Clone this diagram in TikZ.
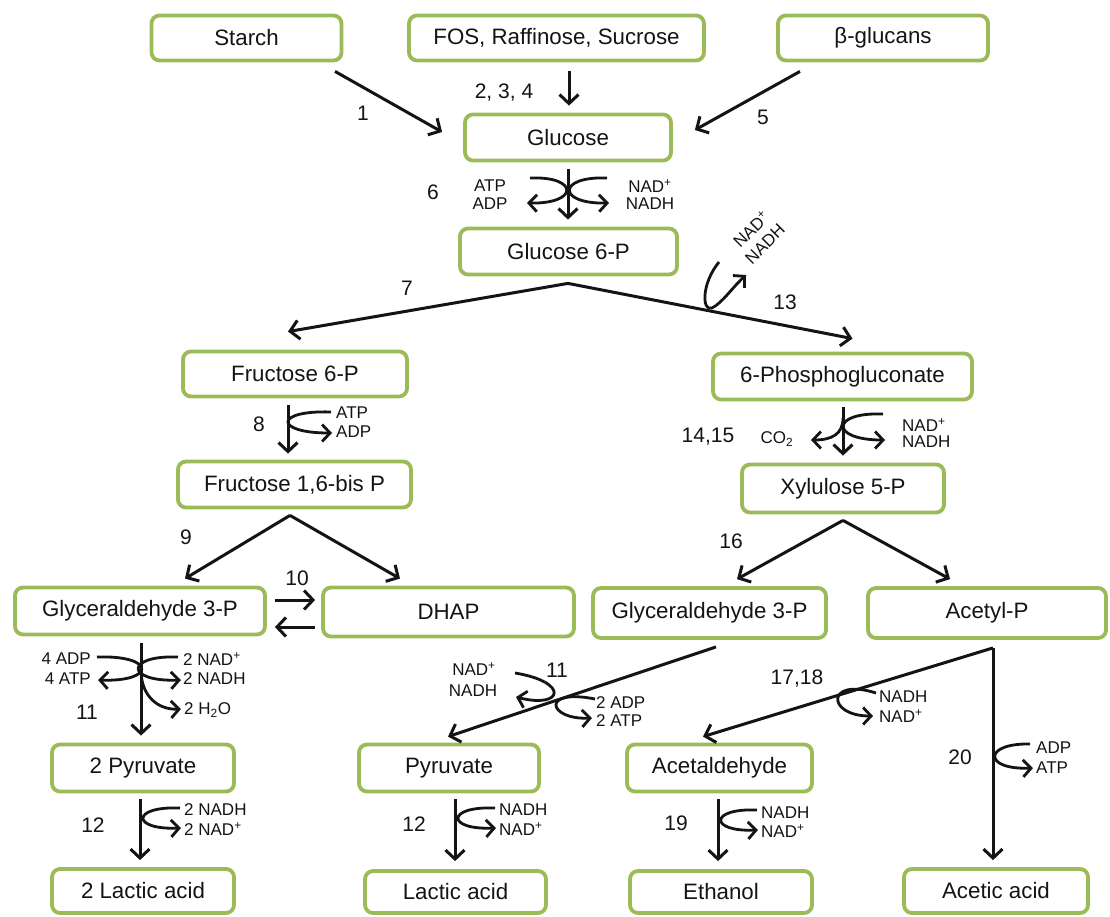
\documentclass[tikz,border=0pt]{standalone}
\usepackage{fontspec}
\setmainfont{Liberation Sans}
\usetikzlibrary{arrows.meta,calc}
\definecolor{boxgreen}{RGB}{155,187,89}
\definecolor{ink}{RGB}{20,20,20}
\begin{document}
\begin{tikzpicture}[x=1pt,y=-1pt,
  box/.style={draw=boxgreen, line width=3.8pt, rounded corners=8pt, fill=white, inner sep=0pt, text=ink, font=\fontsize{22.3}{26}\selectfont},
  arr/.style={draw=ink, line width=3pt, -{Straight Barb[length=9pt,width=19pt]}},
  side/.style={draw=ink, line width=2.8pt, -{Straight Barb[length=8pt,width=17pt]}},
  lab/.style={font=\fontsize{17}{18}\selectfont, inner sep=0pt, text=ink},
  num/.style={font=\fontsize{21}{23}\selectfont, inner sep=0pt, text=ink}]
\useasboundingbox (0,0) rectangle (1110,916);
\fill[white] (0,0) rectangle (1110,916);

% boxes
\node[box, minimum width=190pt, minimum height=45pt] (starch) at (246.5,38) {Starch};
\node[box, minimum width=295pt, minimum height=45pt] (fos) at (556.5,38) {FOS, Raffinose, Sucrose};
\node[box, minimum width=210pt, minimum height=45pt] (beta) at (883,38) {β-glucans};
\node[box, minimum width=206pt, minimum height=46pt] (glc) at (568,137.5) {Glucose};
\node[box, minimum width=217pt, minimum height=46pt] (g6p) at (568.5,251.5) {Glucose 6-P};
\node[box, minimum width=224pt, minimum height=45pt] (f6p) at (295,374) {Fructose 6-P};
\node[box, minimum width=259pt, minimum height=46pt] (pg) at (842.5,376.5) {6-Phosphogluconate};
\node[box, minimum width=233pt, minimum height=46pt] (fbp) at (294.5,484.5) {Fructose 1,6-bis P};
\node[box, minimum width=202pt, minimum height=48pt] (x5p) at (843,488.5) {Xylulose 5-P};
\node[box, minimum width=250pt, minimum height=47pt] (gapl) at (140,611) {Glyceraldehyde 3-P};
\node[box, minimum width=251pt, minimum height=49pt] (dhap) at (448.5,612) {DHAP};
\node[box, minimum width=233pt, minimum height=50pt] (gapr) at (709.5,613) {Glyceraldehyde 3-P};
\node[box, minimum width=238pt, minimum height=50pt] (acp) at (987,613) {Acetyl-P};
\node[box, minimum width=182pt, minimum height=47pt] (pyr2) at (143,768) {2 Pyruvate};
\node[box, minimum width=180pt, minimum height=47pt] (pyr) at (449,768) {Pyruvate};
\node[box, minimum width=185pt, minimum height=47pt] (acald) at (719.5,768) {Acetaldehyde};
\node[box, minimum width=182pt, minimum height=44pt] (lac2) at (143,891) {2 Lactic acid};
\node[box, minimum width=181pt, minimum height=42pt] (lac) at (455.5,892) {Lactic acid};
\node[box, minimum width=182pt, minimum height=42pt] (eth) at (721,892) {Ethanol};
\node[box, minimum width=184pt, minimum height=44pt] (acet) at (996,891) {Acetic acid};

% main connectors
\draw[arr] ([shift={(88.5,9)}]starch.south) -- ([shift={(-21,-5.5)}]glc.west);
\draw[arr] ([shift={(12.5,9)}]fos.south) -- ([shift={(1,-7)}]glc.north);
\draw[arr] ([shift={(-83,9)}]beta.south) -- ([shift={(22,-7.5)}]glc.east);
\draw[arr] ([shift={(0,7)}]glc.south) -- ([shift={(-0.5,-7)}]g6p.north);
\draw[arr] ([shift={(-0.5,7)}]g6p.south) -- ([shift={(-7,-18)}]f6p.north);
\draw[arr] ([shift={(-0.5,7)}]g6p.south) -- ([shift={(10,-13)}]pg.north);
\draw[arr] ([shift={(-7,7)}]f6p.south) -- ([shift={(-6.5,-6)}]fbp.north);
\draw[arr] ([shift={(0.5,6)}]pg.south) -- ([shift={(0,-7)}]x5p.north);
\draw[arr] ([shift={(-4.5,6)}]fbp.south) -- ([shift={(45,-7)}]gapl.north);
\draw[arr] ([shift={(-4.5,6)}]fbp.south) -- ([shift={(-48.5,-7)}]dhap.north);
\draw[arr] ([shift={(8,-11)}]gapl.east) -- ([shift={(-6,-12)}]dhap.west);
\draw[arr] ([shift={(-6,15)}]dhap.west) -- ([shift={(8,16)}]gapl.east);
\draw[arr] ([shift={(0,6)}]x5p.south) -- ([shift={(27.5,-7)}]gapr.north);
\draw[arr] ([shift={(0,6)}]x5p.south) -- ([shift={(-37,-7)}]acp.north);
\draw[arr] ([shift={(1,7)}]gapl.south) -- ([shift={(-2,-7)}]pyr2.north);
\draw[arr] ([shift={(6.5,7)}]gapr.south) -- ([shift={(-1,-6)}]pyr.north);
\draw[arr] ([shift={(6,8)}]acp.south) -- ([shift={(-16.5,-6)}]acald.north);
\draw[arr] ([shift={(6,8)}]acp.south) -- ([shift={(-3,-7)}]acet.north);
\draw[arr] ([shift={(-3,6)}]pyr2.south) -- ([shift={(-3,-7)}]lac2.north);
\draw[arr] ([shift={(6,6)}]pyr.south) -- ([shift={(-0.5,-8)}]lac.north);
\draw[arr] ([shift={(-1.5,6)}]acald.south) -- ([shift={(-3,-8)}]eth.north);

% step numbers
\node[num] (n1) at (363,113) {1};
\node[num] (n234) at (504,93) {2, 3, 4};
\node[num] (n5) at (763,117) {5};
\node[num] (n6) at (433,192) {6};
\node[num] (n7) at (407,288) {7};
\node[num] (n13) at (785,302) {13};
\node[num] (n8) at (259,424) {8};
\node[num] (n1415) at (708,437) {14,15};
\node[num] (n9) at (186,537) {9};
\node[num] (n10) at (297,578) {10};
\node[num] (n16) at (731,541) {16};
\node[num] (n11a) at (87,712) {11};
\node[num] (n11b) at (557,670) {11};
\node[num] (n1718) at (797,678) {17,18};
\node[num] (n20) at (960,757) {20};
\node[num] (n12a) at (93,825) {12};
\node[num] (n12b) at (414,824) {12};
\node[num] (n19) at (676,823) {19};

% reaction 6
\draw[side] (530,178) .. controls (579,176) and (579,204) .. (527,203);
\draw[side] (607,178) .. controls (557,176) and (557,204) .. (609,203);
\node[lab] (t6a) at (490,186) {ATP};
\node[lab] (t6b) at (490,204) {ADP};
\node[lab] (t6c) at (650,186) {NAD\textsuperscript{+}};
\node[lab] (t6d) at (650,204) {NADH};

% reaction 13
\draw[side] (719,262) .. controls (701,284) and (702,312) .. (712,308) .. controls (722,303) and (732,288) .. (746,275);
\node[lab, rotate=45] (t13a) at (751,229) {NAD\textsuperscript{+}};
\node[lab, rotate=45] (t13b) at (765,244) {NADH};

% reaction 8
\draw[side] (331,412) .. controls (274,410) and (274,433) .. (332,433);
\node[lab, anchor=west] (t8a) at (336,413) {ATP};
\node[lab, anchor=west] (t8b) at (336,432) {ADP};

% reaction 14,15
\draw[side] (883,414) .. controls (830,412) and (830,440) .. (885,440);
\draw[side] (843,418) .. controls (843,434) and (832,440) .. (811,440);
\node[lab] (t14a) at (777,439) {CO\textsubscript{2}};
\node[lab, anchor=west] (t14b) at (902,425) {NAD\textsuperscript{+}};
\node[lab, anchor=west] (t14c) at (902,442) {NADH};

% reaction 11 (left)
\draw[side] (97,657) .. controls (156,655) and (156,682) .. (98,680);
\draw[side] (178,657) .. controls (125,655) and (125,682) .. (181,680);
\draw[side] (141,670) .. controls (141,696) and (158,710) .. (181,709);
\node[lab, anchor=east] (t11a) at (91,659) {4 ADP};
\node[lab, anchor=east] (t11b) at (91,679) {4 ATP};
\node[lab, anchor=west] (t11c) at (183,659) {2 NAD\textsuperscript{+}};
\node[lab, anchor=west] (t11d) at (183,679) {2 NADH};
\node[lab, anchor=west] (t11e) at (184,710) {2 H\textsubscript{2}O};

% reaction 11 (right)
\draw[side] (515,673) .. controls (570,682) and (563,709) .. (516,697);
\draw[side] (595,699) .. controls (540,688) and (548,720) .. (592,718);
\node[lab] (t11f) at (474,669) {NAD\textsuperscript{+}};
\node[lab] (t11g) at (473,691) {NADH};
\node[lab, anchor=west] (t11h) at (596,703) {2 ADP};
\node[lab, anchor=west] (t11i) at (596,721) {2 ATP};

% reaction 17,18
\draw[side] (876,693) .. controls (826,677) and (826,716) .. (873,716);
\node[lab, anchor=west] (t17a) at (879,697) {NADH};
\node[lab, anchor=west] (t17b) at (879,716) {NAD\textsuperscript{+}};

% reaction 20
\draw[side] (1030,744) .. controls (983,743) and (983,770) .. (1033,768);
\node[lab, anchor=west] (t20a) at (1036,748) {ADP};
\node[lab, anchor=west] (t20b) at (1036,768) {ATP};

% reaction 12 (left)
\draw[side] (180,808) .. controls (131,806) and (131,830) .. (181,828);
\node[lab, anchor=west] (t12a) at (184,810) {2 NADH};
\node[lab, anchor=west] (t12b) at (184,829) {2 NAD\textsuperscript{+}};

% reaction 12 (right)
\draw[side] (495,808) .. controls (446,806) and (446,830) .. (496,828);
\node[lab, anchor=west] (t12c) at (499,810) {NADH};
\node[lab, anchor=west] (t12d) at (499,829) {NAD\textsuperscript{+}};

% reaction 19
\draw[side] (757,810) .. controls (709,808) and (709,832) .. (758,830);
\node[lab, anchor=west] (t19a) at (761,813) {NADH};
\node[lab, anchor=west] (t19b) at (761,831) {NAD\textsuperscript{+}};
\end{tikzpicture}
\end{document}
